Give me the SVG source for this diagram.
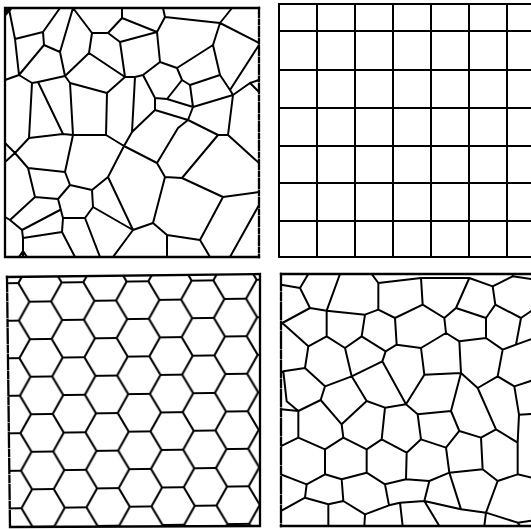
<svg xmlns="http://www.w3.org/2000/svg" width="531" height="529" viewBox="0 0 531 529">
<style>
.ln{fill:none;stroke:#000;stroke-width:2;stroke-linecap:round;stroke-linejoin:round}
.bd{fill:none;stroke:#000;stroke-width:2.3;stroke-linecap:square}
.z{vector-effect:non-scaling-stroke}
</style>
<defs>
<pattern id="hex" patternUnits="userSpaceOnUse" x="41.67" y="281.5" width="65" height="37.528" patternTransform="rotate(-0.8 133 400)">
<path d="M0,18.764 H10.833 L21.667,0 H43.333 L54.167,18.764 H65 M10.833,18.764 L21.667,37.528 H43.333 L54.167,18.764" fill="none" stroke="#000" stroke-width="2.1"/>
</pattern>
<clipPath id="c3"><polygon points="7,277 260,274 260,526 10,527"/></clipPath>
<clipPath id="c4"><rect x="281" y="274" width="250" height="252"/></clipPath>
</defs>
<rect width="531" height="529" fill="#fff"/>

<g id="panel-random">
<path class="bd" d="M5,8 H259 M5,8 V257 H259"/>
<path class="bd" d="M259,8 V257" stroke-dasharray="9 3 4 3"/>
<polygon points="5,8 13,8 5,17" fill="#000"/>
<path class="ln" d="M9,9 L15,39 L43,32 L60,8 M43,32 L44,45 L60,52 M44,45 L19,75 L15,39 M19,75 L5,80
M19,75 L32,83 L38,82 L65,76 L60,52 L73,8 L92,33 L89,53 L65,76 M89,53 L125,77
M92,33 L108,33 L122,18 L122,8 M108,33 L120,42 L157,32 L122,18 M120,42 L125,77
M157,32 L165,17 L163,8 M165,17 L220,23 L232,8 M220,23 L259,43 M220,23 L213,45 L177,68 M213,45 L220,75
M157,32 L160,62 L177,68 M160,62 L143,75 L135,77 L125,77 L107,93 L70,83 L65,76
M70,83 L73,135 M107,93 L106,135 M32,83 L29,138 M38,82 L63,134
M15,153 L29,138 L63,134 L73,135 L106,135 L124,146 M135,77 L132,132 L124,146
M143,75 L155,98 L167,99 L182,80 L177,68 M182,80 L190,85 L220,75 L230,90 L259,45
M190,85 L193,107 L167,99 M155,98 L155,110 L188,120 L193,107 L233,95 L230,90 M155,110 L132,132
M233,95 L250,83 L259,80 M250,83 L259,92 M233,95 L228,135 L259,163 M188,120 L218,135 L228,135
M188,120 L178,128 L157,163 L124,146 M157,163 L165,177 L182,178 L218,135
M182,178 L223,197 L259,192 M223,197 L200,240 L210,257
M165,177 L153,223 L167,235 L200,240 M167,235 L167,257 M259,205 L230,257 M153,223 L133,230
M124,146 L108,177 L133,230 L113,257 M108,177 L92,190 L70,185 L65,172 L73,135
M65,172 L28,168 L15,153 L5,143 M15,153 L5,162 M28,168 L35,197 L58,199 L70,185 M58,199 L63,218
M92,190 L93,207 L85,218 L63,218 M93,207 L133,230 M85,218 L100,257
M63,218 L62,232 L23,238 L23,257 M62,232 L75,257
M35,197 L10,220 L22,230 L60,210 M22,230 L23,238 M10,220 L5,217
M19,257 L23,251 L27,257"/>
</g>

<g id="panel-square">
<path class="ln" d="M279,4 V257 M317,4 V257 M355,4 V257 M393,4 V257 M431,4 V257 M469,4 V257 M507,4 V257"/>
<path class="ln" d="M279,4 H531 M279,31 H531 M279,70 H531 M279,108 H531 M279,146 H531 M279,183 H531 M279,221 H531 M279,257 H531"/>
</g>

<g id="panel-hexagonal">
<rect x="0" y="260" width="270" height="269" fill="url(#hex)" clip-path="url(#c3)"/>
<path class="bd" d="M7,277 L260,274 L260,526 L10,527"/>
<path class="bd" d="M7,277 L10,527" stroke-dasharray="14 3 6 3"/>
</g>

<g id="panel-irregular">
<path class="bd" d="M281,274 H531 M281,526 H531"/>
<path class="bd" d="M281,274 V526" stroke-dasharray="16 3 7 3"/>
<g clip-path="url(#c4)">
<path class="ln z" transform="translate(265,264) scale(0.33333)" d="M48,62 L105,72 L130,30 M105,72 L135,132 L52,177 L48,180
M135,132 L185,140 L225,30 M185,140 L185,217 M185,140 L300,152 L340,137 L340,57 L320,30
M340,57 L468,42 L613,42 M340,137 L390,162 L473,122 L468,42
M473,122 L538,162 L573,132 L613,42 M573,132 L663,162
M613,42 L683,67 L743,37 L800,45 M743,37 L743,30 M683,67 L691,122 L663,162
M691,122 L768,162 L800,140 M768,162 L753,242 L800,225
M663,162 L663,222 L583,232 M663,222 L713,257 L753,242
M538,162 L543,207 L583,232 M543,207 L468,252 L395,242 L390,162 M395,242 L362,262
M468,252 L478,332 L588,327 L583,232 M588,327 L638,372 L698,337 L713,257
M698,337 L748,367 L800,350 M748,367 L762,452 L800,450 M762,452 L758,536
M130,247 L52,177 M185,217 L130,247 M185,217 L240,252 L290,217 L300,152
M290,217 L362,262 L352,292 L260,337 L240,252
M130,247 L120,312 L55,322 L48,325 M120,312 L180,367 L260,337
M180,367 L167,408 L100,441 M55,322 L65,412 L100,441 M100,441 L48,436
M167,408 L230,481 L305,411 L260,337 M305,411 L360,431 L423,421 L352,292 M423,421 L478,332
M423,421 L458,451 L558,441 L588,327 M638,372 L693,496
M558,441 L583,501 L648,521 L693,496 L758,536
M458,451 L468,526 L543,551 L583,501 M468,526 L425,566 L350,526 L360,431
M350,526 L305,556 L235,521 L230,481 M235,521 L180,556 L100,521 L100,441 M100,521 L48,546
M180,556 L180,631 L230,646 L305,626 L305,556 M180,631 L125,661 L48,631
M125,661 L120,701 L48,741 M120,701 L190,721 L190,786 M190,721 L235,711 L230,646
M235,711 L300,751 L298,786 M300,751 L372,724 L360,661 L305,626
M360,661 L423,646 L425,566 M423,646 L493,651 L478,711 L405,716 L372,724 M405,716 L413,786
M478,711 L523,786 M493,651 L553,626 L543,551 M553,626 L653,616 L648,521
M653,616 L698,651 L758,631 L758,536 M758,631 L800,641
M698,651 L663,746 L588,736 L553,626 M588,736 L478,711 M663,746 L658,786
M663,746 L758,776 L800,770 M758,776 L765,786"/>
</g>
</g>
</svg>
